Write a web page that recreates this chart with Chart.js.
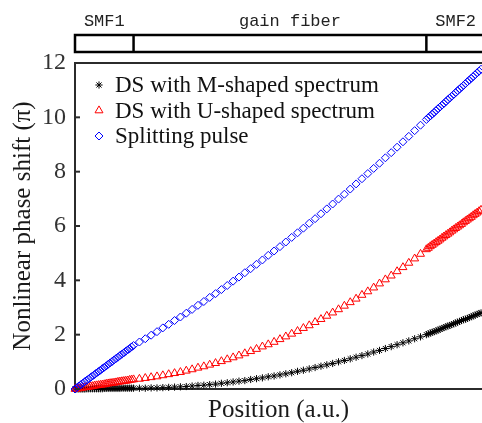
<!DOCTYPE html>
<html>
<head>
<meta charset="utf-8">
<script src="https://cdn.jsdelivr.net/npm/chart.js@4.4.1/dist/chart.umd.min.js"></script>
<style>
    html, body { margin: 0; padding: 0; background: #fff; }
    #wrap { width: 482px; height: 423px; position: relative; overflow: hidden; }
</style>
</head>
<body>
<div id="wrap"><canvas id="phaseChart" width="482" height="423"></canvas></div>
<script>
/* ============================
   Datos
============================ */
// posicion (a.u.): SMF1 0-0.6, fibra de ganancia 0.6-3.6, SMF2 desde 3.6
const POSITION = [
    0, 0.02, 0.04, 0.06, 0.08, 0.1, 0.12, 0.14, 0.16, 0.18, 0.2, 0.22, 0.24, 0.26, 0.28,
    0.3, 0.32, 0.34, 0.36, 0.38, 0.4, 0.42, 0.44, 0.46, 0.48, 0.5, 0.52, 0.54, 0.56, 0.58,
    0.6, 0.66, 0.72, 0.78, 0.84, 0.9, 0.96, 1.02, 1.08, 1.14, 1.2, 1.26, 1.32, 1.38, 1.44,
    1.5, 1.56, 1.62, 1.68, 1.74, 1.8, 1.86, 1.92, 1.98, 2.04, 2.1, 2.16, 2.22, 2.28, 2.34,
    2.4, 2.46, 2.52, 2.58, 2.64, 2.7, 2.76, 2.82, 2.88, 2.94, 3.0, 3.06, 3.12, 3.18, 3.24,
    3.3, 3.36, 3.42, 3.48, 3.54, 3.6,
    3.62, 3.64, 3.66, 3.68, 3.7, 3.72, 3.74, 3.76, 3.78, 3.8, 3.82, 3.84, 3.86, 3.88,
    3.9, 3.92, 3.94, 3.96, 3.98, 4.0, 4.02, 4.04, 4.06, 4.08, 4.1, 4.12, 4.14, 4.16
]

const DS_M_SHAPED = [
    0, 0, 0, 0, 0, 0, 0.01, 0.01, 0.01, 0.01, 0.01, 0.01, 0.01, 0.01, 0.01,
    0.02, 0.02, 0.02, 0.02, 0.02, 0.02, 0.02, 0.02, 0.02, 0.03, 0.03, 0.03, 0.03, 0.03, 0.03,
    0.03, 0.03, 0.03, 0.04, 0.04, 0.05, 0.06, 0.07, 0.08, 0.09, 0.11, 0.13, 0.14, 0.16, 0.18,
    0.21, 0.23, 0.26, 0.29, 0.31, 0.35, 0.38, 0.41, 0.45, 0.48, 0.52, 0.56, 0.6, 0.65, 0.69,
    0.74, 0.79, 0.84, 0.89, 0.94, 1.0, 1.05, 1.11, 1.17, 1.23, 1.29, 1.36, 1.42, 1.49, 1.56,
    1.63, 1.7, 1.77, 1.85, 1.92, 2.0,
    2.03, 2.06, 2.09, 2.11, 2.14, 2.17, 2.2, 2.23, 2.26, 2.29, 2.32, 2.34, 2.37, 2.4,
    2.43, 2.46, 2.49, 2.52, 2.55, 2.57, 2.6, 2.63, 2.66, 2.69, 2.72, 2.75, 2.78, 2.8
]

const DS_U_SHAPED = [
    0, 0.01, 0.02, 0.03, 0.05, 0.06, 0.07, 0.08, 0.09, 0.1, 0.12, 0.13, 0.14, 0.15, 0.16,
    0.17, 0.19, 0.2, 0.21, 0.22, 0.23, 0.24, 0.26, 0.27, 0.28, 0.29, 0.3, 0.31, 0.33, 0.34,
    0.35, 0.37, 0.4, 0.43, 0.46, 0.5, 0.54, 0.58, 0.62, 0.67, 0.72, 0.78, 0.83, 0.89, 0.95,
    1.02, 1.09, 1.16, 1.23, 1.31, 1.39, 1.47, 1.56, 1.64, 1.73, 1.83, 1.93, 2.03, 2.13, 2.24,
    2.34, 2.46, 2.57, 2.69, 2.81, 2.93, 3.06, 3.19, 3.32, 3.46, 3.59, 3.73, 3.88, 4.03, 4.17,
    4.33, 4.48, 4.64, 4.8, 4.97, 5.14,
    5.19, 5.25, 5.3, 5.35, 5.4, 5.45, 5.5, 5.56, 5.61, 5.66, 5.71, 5.76, 5.82, 5.87,
    5.92, 5.97, 6.02, 6.07, 6.13, 6.18, 6.23, 6.28, 6.33, 6.39, 6.44, 6.49, 6.54, 6.59
]

const SPLITTING = [
    0, 0.05, 0.11, 0.16, 0.21, 0.27, 0.32, 0.37, 0.43, 0.48, 0.53, 0.59, 0.64, 0.69, 0.75,
    0.8, 0.85, 0.91, 0.96, 1.01, 1.07, 1.12, 1.17, 1.23, 1.28, 1.33, 1.39, 1.44, 1.49, 1.55,
    1.6, 1.73, 1.85, 1.98, 2.11, 2.25, 2.38, 2.52, 2.65, 2.79, 2.93, 3.08, 3.22, 3.37, 3.51,
    3.66, 3.81, 3.97, 4.12, 4.28, 4.43, 4.59, 4.75, 4.92, 5.08, 5.24, 5.41, 5.58, 5.75, 5.92,
    6.1, 6.27, 6.45, 6.63, 6.81, 6.99, 7.17, 7.36, 7.55, 7.74, 7.93, 8.12, 8.31, 8.51, 8.7,
    8.9, 9.1, 9.3, 9.51, 9.71, 9.92,
    9.99, 10.05, 10.12, 10.18, 10.25, 10.32, 10.38, 10.45, 10.51, 10.58, 10.65, 10.71, 10.78, 10.84,
    10.91, 10.98, 11.04, 11.11, 11.17, 11.24, 11.31, 11.37, 11.44, 11.5, 11.57, 11.64, 11.7, 11.77
]

const SERIES_LABELS = ['DS with M-shaped spectrum', 'DS with U-shaped spectrum', 'Splitting pulse']
const SECTION_NAMES = ['SMF1', 'gain fiber', 'SMF2']
const SECTION_ENDS = [0.6, 3.6]
const Y_TICKS = [0, 2, 4, 6, 8, 10, 12]

const SERIF = '"Liberation Serif", "Times New Roman", serif'

/* ============================
   Estilos de series
============================ */
const SERIES_STYLE = [
    { pointStyle: 'star', radius: 3.6, color: '#000000', order: 3 },
    { pointStyle: 'triangle', radius: 4.6, color: '#ff0000', order: 2 },
    { pointStyle: 'rectRot', radius: 4, color: '#0000ff', order: 1 }
]

const toPoints = values => values.map((v, i) => ({ x: POSITION[i], y: v }))

// ============================
// Plugin: marco, fibra y leyenda
// ============================
const fiberPlugin = {
    id: 'fiberLayout',
    afterDraw(chart) {
        const { ctx, chartArea: area, scales: { x, y } } = chart
        ctx.save()

        // linea superior del marco + ticks hacia adentro
        ctx.strokeStyle = '#2b2b2b'
        ctx.lineWidth = 2
        ctx.beginPath()
        ctx.moveTo(area.left - 1, area.top)
        ctx.lineTo(area.right + 10, area.top)
        ctx.stroke()
        y.ticks.forEach(t => {
            const py = y.getPixelForValue(t.value)
            ctx.beginPath()
            ctx.moveTo(area.left, py)
            ctx.lineTo(area.left + 5, py)
            ctx.stroke()
        })

        // barra de fibra
        ctx.strokeStyle = '#000'
        ctx.lineWidth = 2.5
        ctx.strokeRect(area.left, 35, area.right + 20 - area.left, 17)
        SECTION_ENDS.forEach(v => {
            const px = x.getPixelForValue(v)
            ctx.beginPath()
            ctx.moveTo(px, 35)
            ctx.lineTo(px, 52)
            ctx.stroke()
        })

        ctx.font = '17px "Liberation Mono", monospace'
        ctx.fillStyle = '#222'
        ctx.textAlign = 'center'
        ctx.textBaseline = 'middle'
        const bounds = [x.min, ...SECTION_ENDS, 4.2]
        SECTION_NAMES.forEach((name, i) => {
            let cx = (x.getPixelForValue(bounds[i]) + x.getPixelForValue(bounds[i + 1])) / 2
            if (i === 1) cx += 10
            ctx.fillText(name, cx, 21)
        })

        // leyenda
        ctx.font = `23px ${SERIF}`
        ctx.textAlign = 'left'
        ctx.textBaseline = 'alphabetic'
        SERIES_LABELS.forEach((label, i) => {
            const st = SERIES_STYLE[i]
            const rowY = area.top + 22 + i * 25.5
            ctx.strokeStyle = st.color
            ctx.fillStyle = 'rgba(0,0,0,0)'
            ctx.lineWidth = 1
            Chart.helpers.drawPoint(ctx, {
                pointStyle: st.pointStyle, radius: st.radius, rotation: 0, borderWidth: 1
            }, area.left + 24, rowY)
            ctx.fillStyle = '#111'
            ctx.fillText(label, area.left + 40, rowY + 7)
        })

        ctx.restore()
    }
}

document.addEventListener('DOMContentLoaded', () => {
    const seriesData = [DS_M_SHAPED, DS_U_SHAPED, SPLITTING]

    const datasets = seriesData.map((values, i) => ({
        label: SERIES_LABELS[i],
        data: toPoints(values),
        showLine: false,
        pointStyle: SERIES_STYLE[i].pointStyle,
        pointRadius: SERIES_STYLE[i].radius,
        pointBorderWidth: 1,
        borderColor: SERIES_STYLE[i].color,
        pointBorderColor: SERIES_STYLE[i].color,
        pointBackgroundColor: 'rgba(0,0,0,0)',
        order: SERIES_STYLE[i].order,
        clip: false
    }))

    new Chart(document.getElementById('phaseChart'), {
        type: 'scatter',
        data: { datasets },
        options: {
            responsive: false,
            animation: false,
            events: [],
            layout: { autoPadding: false, padding: { top: 63, right: 0, bottom: 0, left: 0 } },
            plugins: { legend: { display: false }, tooltip: { enabled: false } },
            scales: {
                x: {
                    type: 'linear',
                    min: 0,
                    max: 4.17,
                    grid: { display: false },
                    border: { display: true, width: 2, color: '#2b2b2b' },
                    ticks: { display: false },
                    title: {
                        display: true,
                        text: 'Position (a.u.)',
                        color: '#1a1a1a',
                        font: { family: SERIF, size: 25, lineHeight: 1 },
                        padding: { top: 0, bottom: 0 }
                    },
                    afterFit: scale => { scale.height = 34 }
                },
                y: {
                    min: 0,
                    max: 12,
                    afterBuildTicks: scale => { scale.ticks = Y_TICKS.map(v => ({ value: v })) },
                    grid: { display: false, drawTicks: false },
                    border: { display: true, width: 2, color: '#2b2b2b' },
                    ticks: {
                        padding: 9,
                        color: '#333',
                        font: { family: SERIF, size: 24 }
                    },
                    title: {
                        display: true,
                        text: 'Nonlinear phase shift (π)',
                        color: '#1a1a1a',
                        font: { family: SERIF, size: 25, lineHeight: 1 },
                        padding: { top: 11, bottom: 0 }
                    },
                    afterFit: scale => { scale.width = 75 }
                }
            }
        },
        plugins: [fiberPlugin]
    })
})
</script>
</body>
</html>
